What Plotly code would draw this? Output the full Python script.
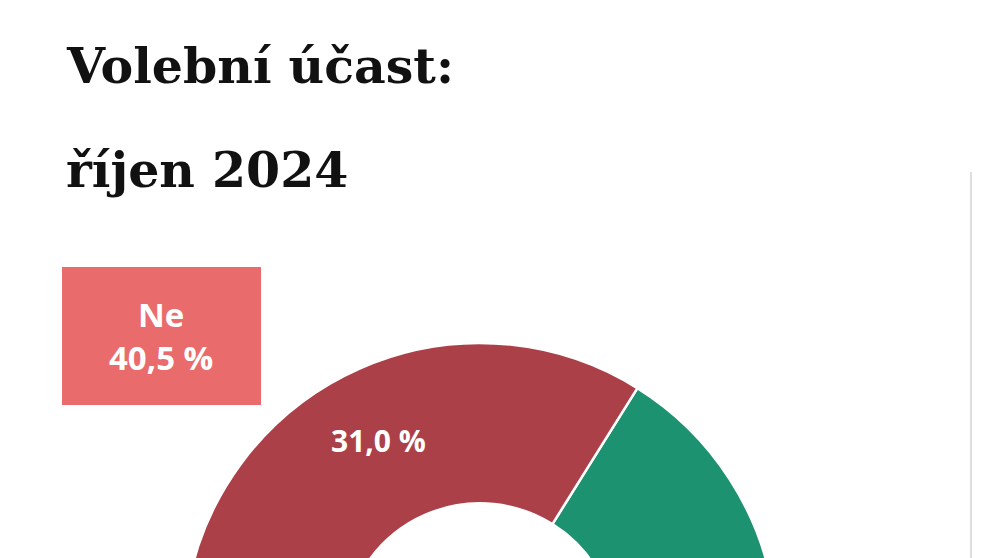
import plotly.graph_objects as go

W, H = 991, 1100
labels = ["Ano", "Ne (ostatní)", "Ne"]
values = [59.5, 9.5, 31.0]
colors = ["#1c9270", "#e96b6b", "#ab4048"]
title_lines = ["Volební účast:", "říjen 2024"]
box_text = "Ne<br>40,5 %"
slice_text = "31,0 %"

OFF = 8  # page body margin

def px(x, y):
    return (x - OFF) / W, 1 - (y - OFF) / H

cx, cy, r = 480 - OFF, 640 - OFF, 297
fig = go.Figure(go.Pie(
    labels=labels, values=values, sort=False, direction="clockwise", rotation=32,
    hole=0.46, marker=dict(colors=colors, line=dict(color="white", width=2.5)),
    textinfo="none", hoverinfo="label+percent", showlegend=False,
    domain=dict(x=[(cx - r) / W, (cx + r) / W], y=[(H - cy - r) / H, (H - cy + r) / H]),
))
ann = []
for i, t in enumerate(title_lines):
    x, y = px(64, 66 + i * 104)
    ann.append(dict(x=x, y=y, xref="paper", yref="paper", text=t, showarrow=False,
                    xanchor="left", yanchor="middle",
                    font=dict(family="DejaVu Serif", size=49, color="#111", weight="bold")))
x, y = px(161, 336)
ann.append(dict(x=x, y=y, xref="paper", yref="paper", text=box_text, showarrow=False,
                xanchor="center", yanchor="middle",
                font=dict(family="Open Sans", size=33, color="white", weight="bold")))
x, y = px(378, 440)
ann.append(dict(x=x, y=y, xref="paper", yref="paper", text=slice_text, showarrow=False,
                xanchor="center", yanchor="middle",
                font=dict(family="Open Sans", size=30, color="white", weight="bold")))
x0, y1 = px(62, 267); x1, y0 = px(261, 405)
shapes = [dict(type="rect", xref="paper", yref="paper", x0=x0, x1=x1, y0=y0, y1=y1,
               fillcolor="#e96b6b", line=dict(width=0), layer="below")]
lx, ly0 = px(971, 172)
shapes.append(dict(type="line", xref="paper", yref="paper", x0=lx, x1=lx, y0=0, y1=ly0,
                   line=dict(color="#dddddd", width=2)))
fig.update_layout(width=W, height=H, margin=dict(l=0, r=0, t=0, b=0),
                  paper_bgcolor="white", annotations=ann, shapes=shapes)
fig.write_html("out.html")
